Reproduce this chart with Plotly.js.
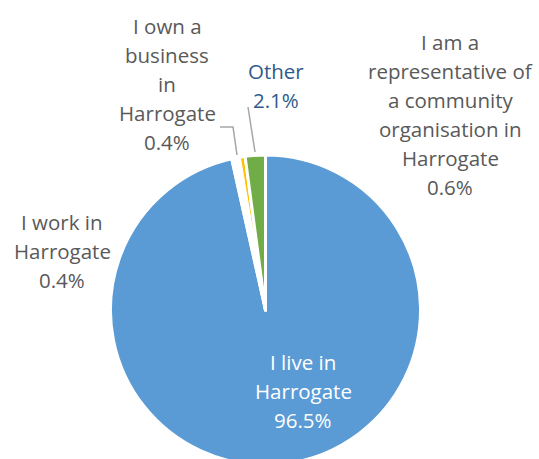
<!DOCTYPE html>
<html>
<head>
<meta charset="utf-8">
<script src="https://cdn.plot.ly/plotly-3.0.1.min.js"></script>
<style>
  html, body { margin: 0; padding: 0; background: #ffffff; overflow: hidden; }
  #chart { width: 539px; height: 480px; }
</style>
</head>
<body>
<div id="chart"></div>
<script>
// ---- Data ----
const categories = [
  "I live in Harrogate",
  "I work in Harrogate",
  "I own a business in Harrogate",
  "I am a representative of a community organisation in Harrogate",
  "Other"
];
const labelLines = [
  ["I live in", "Harrogate"],
  ["I work in", "Harrogate"],
  ["I own a", "business", "in", "Harrogate"],
  ["I am a", "representative of", "a community", "organisation in", "Harrogate"],
  ["Other"]
];
const percentages = [96.5, 0.4, 0.4, 0.6, 2.1];

// ---- Styling / layout ----
const sliceColors = ["#5B9BD5", "#FFFFFF", "#FFFFFF", "#FFC000", "#70AD47"];
const labelColors = ["#FFFFFF", "#595959", "#595959", "#595959", "#2F5B8A"];
const labelAnchors = [ // pixel centre of first line
  {x: 303, y: 362},
  {x: 62,  y: 222},
  {x: 167, y: 26},
  {x: 450, y: 42},
  {x: 276, y: 71}
];
const W = 539, H = 480;
const LINE = 29;
const FONT = "'Open Sans', sans-serif";
const FS = 20.5;
const px = x => x / W;
const py = y => 1 - y / H;

const cx = 265.5, cy = 310, R = 155;

const annotations = [];
categories.forEach((cat, i) => {
  const lines = labelLines[i].concat([percentages[i].toFixed(1) + "%"]);
  lines.forEach((t, k) => {
    annotations.push({
      xref: "paper", yref: "paper",
      x: px(labelAnchors[i].x), y: py(labelAnchors[i].y + k * LINE),
      xanchor: "center", yanchor: "middle",
      text: t, showarrow: false,
      font: {family: FONT, size: FS, color: labelColors[i]}
    });
  });
});

const leader = {type: "path", xref: "paper", yref: "paper",
  line: {color: "#A6A6A6", width: 1.5}};
const shapes = [
  Object.assign({}, leader, {path: `M ${px(220)},${py(127)} L ${px(233)},${py(127)} L ${px(237)},${py(155)}`}),
  Object.assign({}, leader, {path: `M ${px(248)},${py(107)} L ${px(255)},${py(152)}`})
];

const trace = {
  type: "pie",
  labels: categories,
  values: percentages,
  sort: false,
  direction: "clockwise",
  rotation: 0,
  textinfo: "none",
  hoverinfo: "none",
  showlegend: false,
  marker: {colors: sliceColors, line: {color: "#FFFFFF", width: 3}},
  domain: {x: [px(cx - R), px(cx + R)], y: [1 - (cy + R) / H, 1 - (cy - R) / H]}
};

const layout = {
  width: W, height: H,
  margin: {l: 0, r: 0, t: 0, b: 0},
  paper_bgcolor: "#FFFFFF",
  plot_bgcolor: "#FFFFFF",
  showlegend: false,
  annotations: annotations,
  shapes: shapes
};

Plotly.newPlot("chart", [trace], layout, {staticPlot: true, displayModeBar: false});
</script>
</body>
</html>
